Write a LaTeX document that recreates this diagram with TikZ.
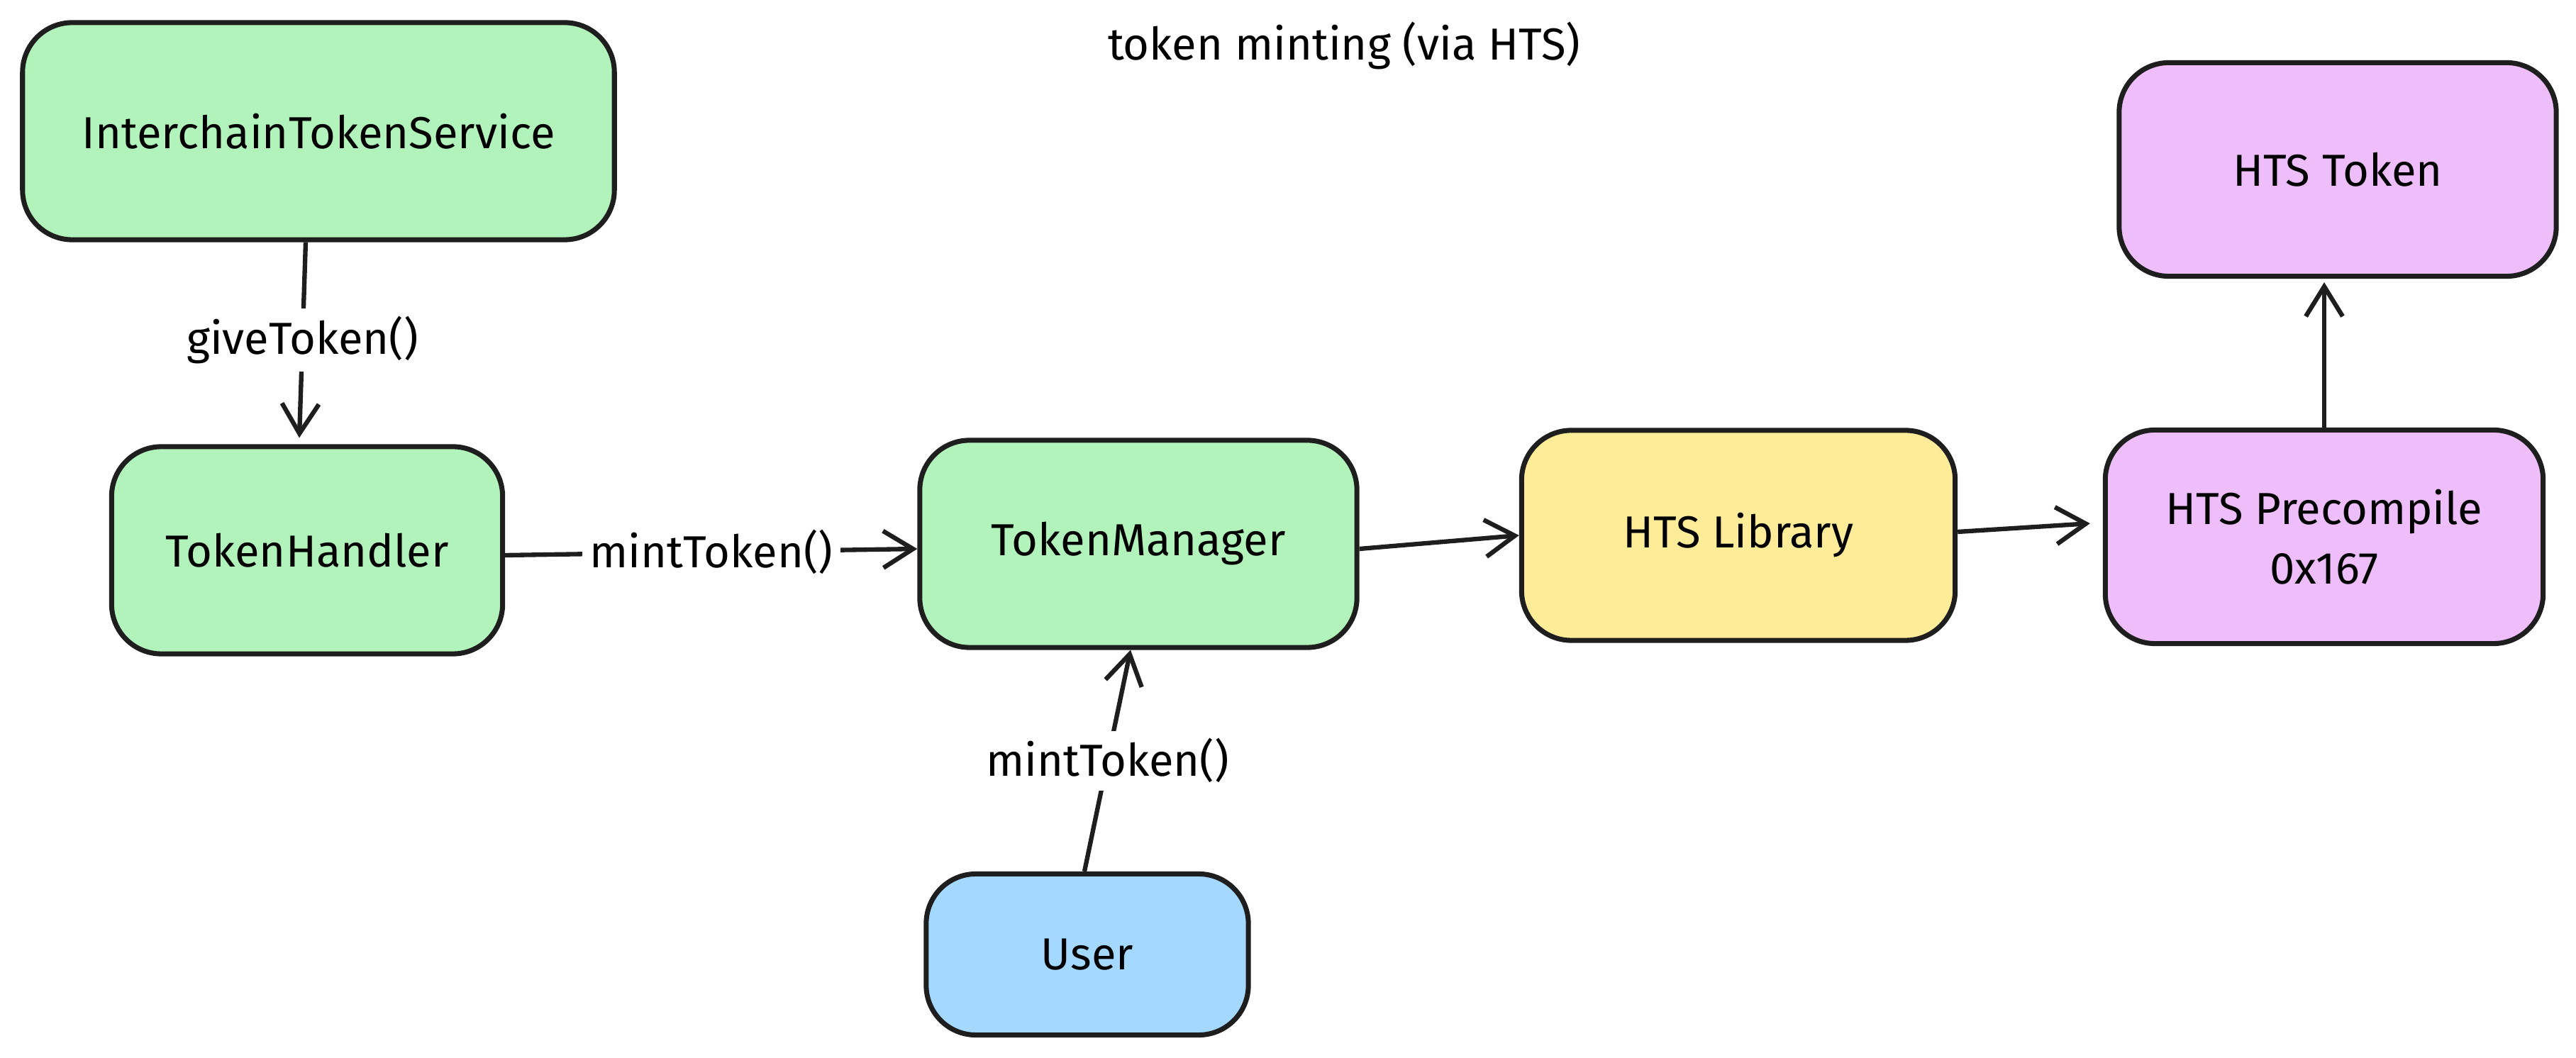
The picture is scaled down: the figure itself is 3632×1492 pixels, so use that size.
\documentclass[tikz,border=0pt]{standalone}
\usepackage{fontspec}
\setmainfont{Fira Sans}
\usetikzlibrary{arrows.meta}
\definecolor{ink}{HTML}{1E1E1E}
\definecolor{boxgreen}{HTML}{B2F2BB}
\definecolor{boxyellow}{HTML}{FFEC99}
\definecolor{boxpurple}{HTML}{EEBEFA}
\definecolor{boxblue}{HTML}{A5D8FF}
\tikzset{
  box/.style = {draw = ink, line width = 2pt, rounded corners = 0.7cm, inner sep = 0pt, align = center, font = \fontsize{18}{24}\selectfont},
  link/.style = {draw = ink, line width = 1.8pt, -{Straight Barb[length = 0.42cm, width = 0.52cm, line width = 1.8pt]}},
  call/.style = {fill = white, inner sep = 3pt, font = \fontsize{18}{24}\selectfont}
}
\begin{document}
\begin{tikzpicture}[x = 0.01cm, y = -0.01cm]
\useasboundingbox (0,0) rectangle (3632,1492);
\node[font = \fontsize{18}{24}\selectfont] (title) at (1895,65) {token minting (via HTS)};
\node[box, fill = boxgreen, minimum width = 8.34cm, minimum height = 3.06cm] (its) at (449,185) {InterchainTokenService};
\node[box, fill = boxgreen, minimum width = 5.51cm, minimum height = 2.92cm] (handler) at (433,776) {TokenHandler};
\node[box, fill = boxgreen, minimum width = 6.16cm, minimum height = 2.92cm] (manager) at (1605,767) {TokenManager};
\node[box, fill = boxyellow, minimum width = 6.11cm, minimum height = 2.96cm] (library) at (2451,755) {HTS Library};
\node[box, fill = boxpurple, minimum width = 6.17cm, minimum height = 3.01cm] (precompile) at (3277,757) {HTS Precompile\\0x167};
\node[box, fill = boxpurple, minimum width = 6.16cm, minimum height = 3.01cm] (htstoken) at (3296,239) {HTS Token};
\node[box, fill = boxblue, minimum width = 4.54cm, minimum height = 2.27cm] (user) at (1533,1346) {User};
\draw[link] ([xshift = -0.18cm]its.south) -- node[call] {giveToken()} ([xshift = -0.11cm, yshift = 0.09cm]handler.north);
\draw[link] ([yshift = -0.07cm]handler.east) -- node[call] {mintToken()} ([yshift = -0.07cm]manager.west);
\draw[link] ([yshift = -0.07cm]manager.east) -- (library.west);
\draw[link, shorten > = 0.18cm] ([yshift = 0.05cm]library.east) -- ([yshift = 0.2cm]precompile.west);
\draw[link] (precompile.north) -- ([yshift = -0.05cm]precompile.north |- htstoken.south);
\draw[link] ([xshift = -0.04cm]user.north) -- node[call] {mintToken()} ([xshift = -0.11cm]manager.south);
\end{tikzpicture}
\end{document}
